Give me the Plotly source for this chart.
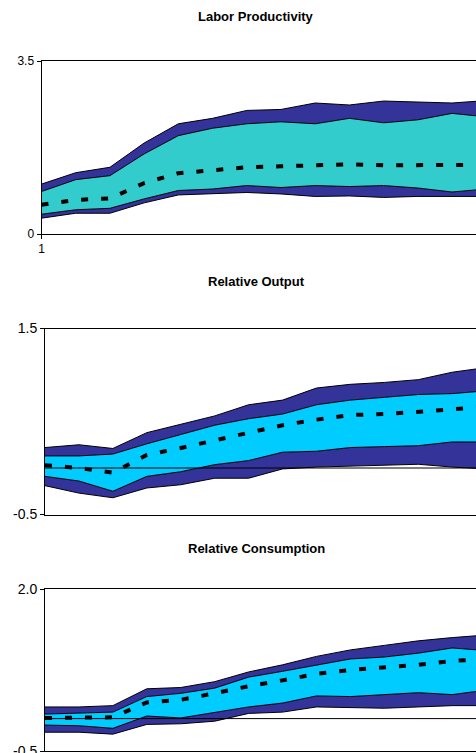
import plotly.graph_objects as go

# ---------------- data ----------------
periods = list(range(1, 15))

# Labor Productivity
lp_outer_upper = [1.01, 1.24, 1.35, 1.84, 2.23, 2.34, 2.50, 2.52, 2.65, 2.61, 2.69, 2.67, 2.65, 2.70]
lp_inner_upper = [0.86, 1.10, 1.18, 1.62, 1.99, 2.14, 2.23, 2.27, 2.23, 2.34, 2.25, 2.31, 2.44, 2.37]
lp_median      = [0.59, 0.69, 0.72, 1.03, 1.23, 1.28, 1.35, 1.37, 1.39, 1.41, 1.39, 1.39, 1.40, 1.40]
lp_inner_lower = [0.40, 0.49, 0.52, 0.71, 0.88, 0.91, 0.98, 0.94, 0.98, 0.96, 0.98, 0.93, 0.85, 0.91]
lp_outer_lower = [0.32, 0.42, 0.42, 0.63, 0.79, 0.81, 0.84, 0.81, 0.76, 0.77, 0.74, 0.76, 0.76, 0.76]

# Relative Output
ro_outer_upper = [0.22, 0.25, 0.21, 0.38, 0.47, 0.56, 0.68, 0.73, 0.86, 0.90, 0.92, 0.95, 1.03, 1.08]
ro_inner_upper = [0.13, 0.13, 0.15, 0.26, 0.36, 0.46, 0.53, 0.58, 0.68, 0.73, 0.76, 0.79, 0.80, 0.83]
ro_median      = [0.03, 0.00, -0.05, 0.14, 0.215, 0.30, 0.38, 0.46, 0.52, 0.57, 0.58, 0.60, 0.63, 0.66]
ro_inner_lower = [-0.09, -0.14, -0.25, -0.09, -0.04, 0.036, 0.08, 0.17, 0.18, 0.22, 0.23, 0.24, 0.28, 0.28]
ro_outer_lower = [-0.19, -0.27, -0.32, -0.215, -0.18, -0.11, -0.11, -0.01, 0.01, 0.02, 0.03, 0.04, 0.01, -0.01]

# Relative Consumption
rc_outer_upper = [0.18, 0.18, 0.20, 0.46, 0.48, 0.57, 0.72, 0.83, 0.96, 1.06, 1.13, 1.20, 1.25, 1.29]
rc_inner_upper = [0.07, 0.08, 0.10, 0.34, 0.39, 0.47, 0.64, 0.73, 0.83, 0.92, 0.95, 1.01, 1.09, 1.05]
rc_median      = [0.01, 0.02, 0.02, 0.25, 0.29, 0.39, 0.50, 0.59, 0.69, 0.75, 0.79, 0.83, 0.89, 0.92]
rc_inner_lower = [-0.10, -0.11, -0.15, 0.04, 0.01, 0.10, 0.18, 0.24, 0.35, 0.34, 0.37, 0.40, 0.37, 0.44]
rc_outer_lower = [-0.21, -0.21, -0.24, -0.09, -0.08, -0.04, 0.08, 0.10, 0.18, 0.17, 0.16, 0.18, 0.20, 0.20]

titles = ["Labor Productivity", "Relative Output", "Relative Consumption"]
y_ticks = [[0, 3.5], [-0.5, 1.5], [-0.5, 2.0]]
y_ticktext = [["0", "3.5"], ["-0.5", "1.5"], ["-0.5", "2.0"]]

# ---------------- styling ----------------
W, H = 476, 753
DARK = "#333399"
LIGHTS = ["#33CCCC", "#00CCFF", "#00CCFF"]
FONT = "Liberation Sans, Arial, sans-serif"

panels = [
    (lp_outer_lower, lp_inner_lower, lp_inner_upper, lp_outer_upper, lp_median),
    (ro_outer_lower, ro_inner_lower, ro_inner_upper, ro_outer_upper, ro_median),
    (rc_outer_lower, rc_inner_lower, rc_inner_upper, rc_outer_upper, rc_median),
]

# pixel geometry: (left, top, bottom)
geom = [(41.5, 61, 234), (45, 328.5, 514.5), (45, 589, 751)]
title_y = [17, 281, 548]

fig = go.Figure()

for i, (ol, il, iu, ou, med) in enumerate(panels):
    suffix = "" if i == 0 else str(i + 1)
    xa, ya = "x" + suffix, "y" + suffix
    line = dict(color="black", width=1)
    fig.add_trace(go.Scatter(x=periods, y=ol, xaxis=xa, yaxis=ya, mode="lines",
                             line=line, hoverinfo="skip"))
    fig.add_trace(go.Scatter(x=periods, y=il, xaxis=xa, yaxis=ya, mode="lines",
                             line=line, fill="tonexty", fillcolor=DARK, hoverinfo="skip"))
    fig.add_trace(go.Scatter(x=periods, y=iu, xaxis=xa, yaxis=ya, mode="lines",
                             line=line, fill="tonexty", fillcolor=LIGHTS[i], hoverinfo="skip"))
    fig.add_trace(go.Scatter(x=periods, y=ou, xaxis=xa, yaxis=ya, mode="lines",
                             line=line, fill="tonexty", fillcolor=DARK, hoverinfo="skip"))
    fig.add_trace(go.Scatter(x=periods, y=med, xaxis=xa, yaxis=ya, mode="lines",
                             line=dict(color="black", width=4, dash="7px,13px"),
                             hoverinfo="skip"))

    left, top, bottom = geom[i]
    dom_y = [1 - bottom / H, 1 - top / H]
    dom_x = [left / W, 1]
    xkey = "xaxis" if i == 0 else f"xaxis{i + 1}"
    ykey = "yaxis" if i == 0 else f"yaxis{i + 1}"
    fig.layout[xkey] = dict(
        domain=dom_x, anchor=ya, range=[1, 13.7], showgrid=False, zeroline=False,
        showline=True, linecolor="black", linewidth=1, mirror=True, automargin=False,
        tickmode="array", tickvals=[1] if i == 0 else [], ticktext=["1"] if i == 0 else [],
        ticks="outside" if i == 0 else "", ticklen=4, tickcolor="black",
        tickfont=dict(family=FONT, size=12, color="black"), fixedrange=True,
    )
    fig.layout[ykey] = dict(
        domain=dom_y, anchor=xa, range=[y_ticks[i][0], y_ticks[i][1]], showgrid=False,
        zeroline=False, showline=True, linecolor="black", linewidth=1, mirror=False,
        automargin=False, ticklabeloverflow="allow",
        tickmode="array", tickvals=y_ticks[i], ticktext=y_ticktext[i],
        ticks="outside", ticklen=4, tickcolor="black",
        tickfont=dict(family=FONT, size=12 if i == 0 else 14, color="black"), fixedrange=True,
    )
    if i > 0:
        fig.add_shape(type="line", xref=f"{xa} domain", yref=ya, x0=0, x1=1, y0=0, y1=0,
                      line=dict(color="black", width=1), layer="above")

    fig.add_annotation(text=f"<b>{titles[i]}</b>", xref="paper", yref="paper",
                       x=256 / W, y=1 - title_y[i] / H, xanchor="center", yanchor="middle",
                       showarrow=False, font=dict(family=FONT, size=13, color="black"))

fig.update_layout(
    width=W, height=H, margin=dict(l=0, r=0, t=0, b=0, pad=0, autoexpand=False),
    paper_bgcolor="white", plot_bgcolor="white", showlegend=False,
)

fig.write_html(
    "out.html",
    config={"displayModeBar": False},
    post_script="document.body.style.margin='0';document.body.style.overflow='hidden';"
                "document.documentElement.style.overflow='hidden';",
)
